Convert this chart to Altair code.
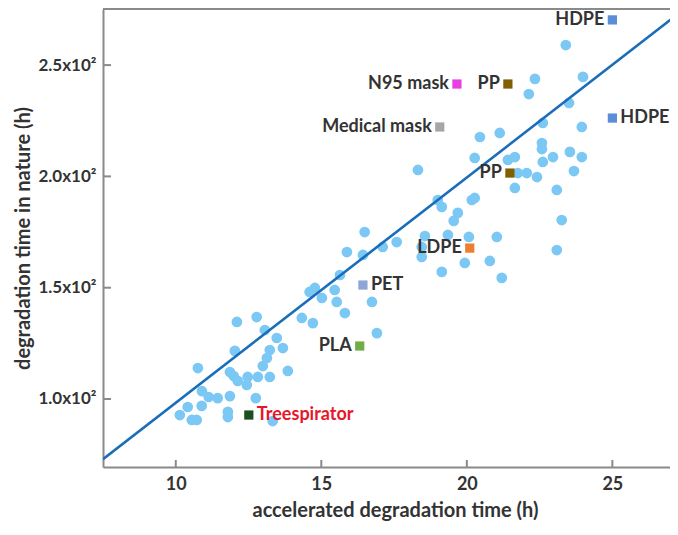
import altair as alt
import pandas as pd

# light-blue scatter points (accelerated time h, nature time h)
pts_x = [10.14, 10.41, 10.55, 10.72, 10.89, 11.13, 11.44, 11.86, 11.79, 11.79, 12.75, 13.33,
         10.76, 12.10, 12.78, 13.06, 13.47, 13.68, 13.85, 13.23, 13.13, 12.99, 12.03, 11.86,
         11.99, 12.13, 12.47, 12.44, 12.82, 13.23, 10.90,
         14.33, 14.71, 14.60, 14.78, 15.02, 15.46, 15.53, 15.81, 16.74, 16.91, 15.64, 15.88,
         16.43, 16.49, 17.11, 17.59,
         18.32, 18.56, 18.45, 18.45, 19.00, 19.14, 19.69, 19.55, 19.35, 20.07, 21.03, 19.93,
         20.79, 19.14, 21.20, 20.17, 20.27, 20.27, 20.45, 21.13, 21.41, 21.65, 21.65, 21.75,
         22.06, 22.41, 22.58, 22.58, 22.61, 22.61, 22.96, 23.54, 23.95, 23.68, 23.09, 23.26,
         23.09, 23.40, 22.34, 22.13, 23.99, 23.51, 23.95]
pts_y = [92.8, 96.4, 90.6, 90.6, 96.9, 100.9, 100.4, 101.3, 94.2, 91.9, 100.4, 90.1,
         113.9, 134.6, 136.8, 131.0, 127.4, 122.9, 112.6, 122.0, 118.4, 114.8, 121.6, 112.1,
         110.3, 108.1, 109.9, 106.3, 109.9, 109.9, 103.5,
         136.4, 134.1, 148.1, 149.9, 145.4, 149.0, 143.6, 138.6, 143.6, 129.6, 155.7, 166.0,
         164.7, 175.0, 168.3, 170.5,
         202.9, 173.2, 168.3, 163.8, 189.4, 186.3, 183.6, 180.0, 173.7, 172.8, 172.8, 161.1,
         162.0, 157.1, 154.4, 189.4, 190.3, 208.3, 217.7, 219.5, 207.4, 208.7, 194.8, 201.5,
         201.5, 199.7, 215.0, 212.3, 224.0, 206.5, 208.7, 211.0, 208.7, 202.4, 193.9, 180.4,
         166.9, 259.0, 243.8, 237.0, 244.7, 233.0, 222.2]

# labelled materials
mat_names = ["HDPE", "N95 mask", "PP", "Medical mask", "HDPE", "PP", "LDPE", "PET", "PLA", "Treespirator"]
mat_x = [25.0, 19.66, 21.41, 19.07, 25.0, 21.48, 20.10, 16.43, 16.32, 12.51]
mat_y = [270.3, 241.5, 241.5, 222.2, 226.2, 201.5, 167.8, 151.2, 123.8, 92.8]
mat_colors = ["#5B8ED6", "#E83FE0", "#7F5F00", "#A6A6A6", "#5B8ED6", "#7F5F00",
              "#ED7D31", "#8EA5D8", "#70AD47", "#1E4D1E"]
mat_side = ["left", "left", "left", "left", "right", "left", "left", "right", "left", "right"]
label_colors = ["#333333"] * 9 + ["#E8152B"]

# fitted line end points
line_x = [7.5, 27.26]
line_y = [73.0, 273.0]

x_ticks = [10, 15, 20, 25]
y_ticks = [100, 150, 200, 250]

FONT = "Lato"
W, H = 567, 458
xs = alt.Scale(domain=[7.5, 26.98], nice=False, zero=False)
ys = alt.Scale(domain=[69.45, 275.2], nice=False, zero=False)

pts = pd.DataFrame({"x": pts_x, "y": pts_y})
mats = pd.DataFrame({"name": mat_names, "x": mat_x, "y": mat_y, "color": mat_colors,
                     "side": mat_side, "lc": label_colors})
line = pd.DataFrame({"x": line_x, "y": line_y})

xaxis = alt.Axis(values=x_ticks, tickSize=0, grid=False, domainColor="#8a8a8a", domainWidth=2,
                 labelFont=FONT, labelFontWeight="bold", labelFontSize=18, labelColor="#333333",
                 labelPadding=8, title="accelerated degradation time (h)", titleFont=FONT,
                 titleFontWeight="bold", titleFontSize=20, titleColor="#333333", titlePadding=7,
                 titleX=292)
yaxis = alt.Axis(values=y_ticks, tickSize=0, grid=False, domainColor="#8a8a8a", domainWidth=2,
                 labelFont=FONT, labelFontWeight="bold", labelFontSize=17, labelColor="#333333",
                 labelPadding=7, labelExpr="format(datum.value/100, '.1f') + 'x10²'",
                 title="degradation time in nature (h)", titleFont=FONT, titleFontWeight="bold",
                 titleFontSize=20, titleColor="#333333", titlePadding=4)

base_pts = alt.Chart(pts).mark_circle(size=115, color="#7CC8F5", opacity=1).encode(
    x=alt.X("x:Q", scale=xs, axis=xaxis),
    y=alt.Y("y:Q", scale=ys, axis=yaxis),
)

fit = alt.Chart(line).mark_line(color="#1A6DB8", strokeWidth=2.6, clip=True).encode(
    x=alt.X("x:Q", scale=xs), y=alt.Y("y:Q", scale=ys)
)

squares = alt.Chart(mats).mark_square(size=85, opacity=1).encode(
    x=alt.X("x:Q", scale=xs), y=alt.Y("y:Q", scale=ys),
    color=alt.Color("color:N", scale=None),
)

lab_left = alt.Chart(mats[mats.side == "left"]).mark_text(
    align="right", baseline="middle", dx=-8, font=FONT, fontWeight="bold", fontSize=18
).encode(x=alt.X("x:Q", scale=xs), y=alt.Y("y:Q", scale=ys), text="name:N",
         color=alt.Color("lc:N", scale=None))

lab_right = alt.Chart(mats[mats.side == "right"]).mark_text(
    align="left", baseline="middle", dx=8, font=FONT, fontWeight="bold", fontSize=18
).encode(x=alt.X("x:Q", scale=xs), y=alt.Y("y:Q", scale=ys), text="name:N",
         color=alt.Color("lc:N", scale=None))

xt = alt.Chart(pd.DataFrame({"v": x_ticks})).mark_rule(color="#8a8a8a", strokeWidth=2).encode(
    x=alt.X("v:Q", scale=xs), y=alt.value(H), y2=alt.value(H - 7))
yt = alt.Chart(pd.DataFrame({"v": y_ticks})).mark_rule(color="#8a8a8a", strokeWidth=2).encode(
    y=alt.Y("v:Q", scale=ys), x=alt.value(0), x2=alt.value(8))

top_border = alt.Chart(pd.DataFrame({"v": [0]})).mark_rule(color="#8a8a8a", strokeWidth=2).encode(
    x=alt.value(0), x2=alt.value(W), y=alt.value(0))

chart = alt.layer(base_pts, fit, xt, yt, top_border, squares, lab_left, lab_right).properties(
    width=W, height=H, autosize="none",
    padding={"left": 95, "top": 1, "right": 0, "bottom": 56},
).configure_view(strokeWidth=0)

chart.save("out.html", embed_options={"renderer": "svg", "actions": False})
